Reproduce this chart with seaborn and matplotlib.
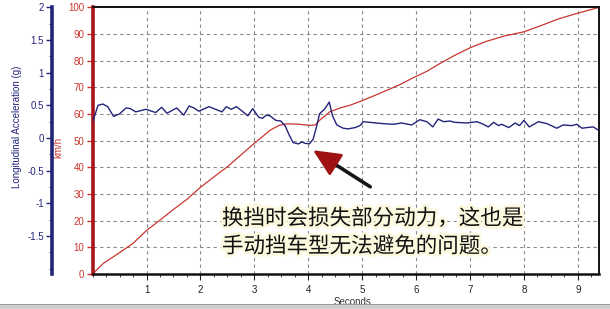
import numpy as np
import pandas as pd
import seaborn as sns
import matplotlib
matplotlib.use("Agg")
import matplotlib.pyplot as plt
from matplotlib.ticker import MultipleLocator, FixedLocator
from matplotlib.patches import Rectangle
import matplotlib.patheffects as pe

# ---- data ----
speed_t = [0, 0.2, 0.5, 0.75, 1.0, 1.25, 1.5, 1.75, 2.0, 2.25, 2.5, 2.75, 3.0, 3.15,
           3.3, 3.47, 3.6, 3.8, 4.03, 4.13, 4.22, 4.4, 4.6, 4.78, 5.0, 5.3, 5.7, 5.95,
           6.2, 6.45, 6.7, 7.0, 7.3, 7.65, 8.0, 8.3, 8.65, 9.0, 9.4]
speed_kmh = [0, 4.0, 8.0, 11.5, 16.3, 20.2, 24.2, 28.0, 32.5, 36.4, 40.2, 44.6, 49.0, 51.5,
             54.0, 55.8, 56.3, 56.2, 55.7, 55.9, 57.8, 60.8, 62.3, 63.3, 65.0, 67.5, 71.0, 73.6,
             76.0, 79.0, 81.8, 84.8, 87.2, 89.3, 90.8, 93.0, 95.7, 97.8, 100.0]

acc_t = [0.00, 0.10, 0.19, 0.28, 0.39, 0.50, 0.62, 0.70, 0.80, 0.99, 1.17, 1.28, 1.38, 1.56,
         1.69, 1.79, 1.88, 1.97, 2.16, 2.40, 2.48, 2.57, 2.67, 2.88, 2.97, 3.08, 3.15, 3.22,
         3.29, 3.40, 3.49, 3.57, 3.65, 3.72, 3.82, 3.88, 3.94, 4.02, 4.09, 4.16, 4.21, 4.31,
         4.39, 4.45, 4.53, 4.65, 4.74, 4.87, 4.96, 5.02, 5.14, 5.39, 5.58, 5.73, 5.92, 6.07,
         6.20, 6.31, 6.41, 6.51, 6.63, 6.72, 6.94, 7.13, 7.25, 7.34, 7.44, 7.53, 7.59, 7.72,
         7.84, 7.92, 8.00, 8.10, 8.27, 8.43, 8.61, 8.73, 8.89, 8.98, 9.08, 9.17, 9.29, 9.38]
acc_g = [0.24, 0.50, 0.52, 0.48, 0.33, 0.37, 0.46, 0.45, 0.40, 0.44, 0.39, 0.47, 0.38, 0.46,
         0.35, 0.49, 0.46, 0.41, 0.48, 0.40, 0.48, 0.44, 0.48, 0.34, 0.45, 0.32, 0.30, 0.35,
         0.34, 0.27, 0.26, 0.19, 0.04, -0.07, -0.09, -0.06, -0.08, -0.09, -0.02, 0.19, 0.37, 0.45,
         0.55, 0.34, 0.20, 0.15, 0.14, 0.16, 0.19, 0.25, 0.24, 0.22, 0.21, 0.23, 0.20, 0.28,
         0.25, 0.17, 0.29, 0.25, 0.26, 0.24, 0.23, 0.25, 0.21, 0.17, 0.24, 0.19, 0.21, 0.16,
         0.23, 0.19, 0.27, 0.17, 0.25, 0.22, 0.15, 0.20, 0.19, 0.21, 0.15, 0.16, 0.17, 0.12]

x_ticks = [1, 2, 3, 4, 5, 6, 7, 8, 9]
speed_ticks = [0, 10, 20, 30, 40, 50, 60, 70, 80, 90, 100]
acc_ticks = [-1.5, -1, -0.5, 0, 0.5, 1, 1.5, 2]
acc_tick_labels = ["-1.5", "-1", "-0.5", "0", "0.5", "1", "1.5", "2"]

note_text = "换挡时会损失部分动力，这也是\n手动挡车型无法避免的问题。"
x_label = "Seconds"
speed_label = "km/h"
acc_label = "Longitudinal Acceleration (g)"

speed_df = pd.DataFrame({"t": speed_t, "v": speed_kmh})
acc_df = pd.DataFrame({"t": acc_t, "g": acc_g})

# ---- style ----
sns.set_theme(style="white")
plt.rcParams["font.family"] = ["Liberation Sans", "DejaVu Sans"]

RED = "#c8362f"
RED_AX = "#a8161b"
NAVY = "#23237a"

fig = plt.figure(figsize=(6.10, 3.09), dpi=100)
fig.patch.set_facecolor("white")
ax = fig.add_axes([0.1518, 0.1133, 0.8307, 0.8631])
ax.set_facecolor("white")

sns.lineplot(data=speed_df, x="t", y="v", ax=ax, color=RED, linewidth=0.9, estimator=None, sort=False)
ax.set_xlim(0, 9.4)
ax.set_ylim(0, 100)
ax.xaxis.set_major_locator(FixedLocator(x_ticks))
ax.xaxis.set_minor_locator(MultipleLocator(0.25))
ax.yaxis.set_major_locator(FixedLocator(speed_ticks))
ax.grid(True, which="major", color="#8a8a8a", linestyle=(0, (3, 3)), linewidth=0.8)
ax.tick_params(axis="x", which="major", direction="out", length=4, width=0.8, colors="#222222",
               labelsize=7, pad=4, bottom=True)
ax.tick_params(axis="x", which="minor", direction="out", length=2.5, width=0.6, colors="#222222", bottom=True)
ax.tick_params(axis="y", which="major", direction="out", length=4, width=1.0, colors=RED,
               labelsize=7, pad=2, left=True)
ax.tick_params(axis="y", labelcolor=RED)
for s in ["top", "right"]:
    ax.spines[s].set_color("#111111")
    ax.spines[s].set_linewidth(1.4)
ax.spines["bottom"].set_color("#111111")
ax.spines["bottom"].set_linewidth(1.8)
ax.spines["left"].set_color(RED_AX)
ax.spines["left"].set_linewidth(2.6)
ax.set_xlabel(x_label, fontsize=7, color="#333333")
ax.xaxis.set_label_coords(0.512, -0.088)
ax.set_ylabel(speed_label, fontsize=7, color=RED)
ax.yaxis.set_label_coords(-0.058, 0.476)

ax2 = ax.twinx()
sns.lineplot(data=acc_df, x="t", y="g", ax=ax2, color=NAVY, linewidth=1.0, estimator=None, sort=False)
ax2.set_xlabel("")
ax2.set_ylim(-2.08, 2.0)
ax2.set_xlim(0, 9.4)
ax2.yaxis.set_ticks_position("left")
ax2.yaxis.set_label_position("left")
ax2.spines["left"].set_position(("axes", -0.080))
ax2.spines["left"].set_visible(True)
ax2.spines["left"].set_color(NAVY)
ax2.spines["left"].set_linewidth(2.6)
for s in ["right", "top", "bottom"]:
    ax2.spines[s].set_visible(False)
ax2.yaxis.set_major_locator(FixedLocator(acc_ticks))
ax2.set_yticklabels(acc_tick_labels)
ax2.yaxis.set_minor_locator(MultipleLocator(0.25))
ax2.tick_params(axis="y", which="major", direction="out", length=4, width=1.0, colors=NAVY,
                labelsize=7, pad=2, left=True, right=False)
ax2.tick_params(axis="y", which="minor", direction="out", length=2, width=0.6, colors=NAVY,
                left=True, right=False)
ax2.set_ylabel(acc_label, fontsize=7, color=NAVY)
ax2.yaxis.set_label_coords(-0.139, 0.55)
ax2.grid(False)

# ---- annotation ----
ax.text(2.40, 15.5, note_text, fontsize=15.5, color="#111111", ha="left", va="center",
        linespacing=1.35, family=["Noto Sans CJK SC", "DejaVu Sans"], zorder=6,
        path_effects=[pe.withStroke(linewidth=4, foreground="#fcf9df")])
head = (4.09, 46.4)
tail = (5.15, 32.7)
ax.annotate("", xy=head, xytext=tail,
            arrowprops=dict(arrowstyle="-", color="#151515", lw=2.6, shrinkA=0, shrinkB=8),
            zorder=7)
ax.annotate("", xy=head, xytext=(4.45, 41.8),
            arrowprops=dict(arrowstyle="-|>,head_length=1.4,head_width=0.65", color="#9e1212",
                            lw=2.0, shrinkA=0, shrinkB=0),
            zorder=8)

# ---- bottom grey bar ----
fig.patches.append(Rectangle((0, 0), 1, 4 / 309, transform=fig.transFigure,
                             facecolor="#cfcfcf", edgecolor="none", zorder=0))
fig.patches.append(Rectangle((0, 4 / 309), 1, 1 / 309, transform=fig.transFigure,
                             facecolor="#9a9a9a", edgecolor="none", zorder=0))

fig.savefig("out.png", dpi=100)
